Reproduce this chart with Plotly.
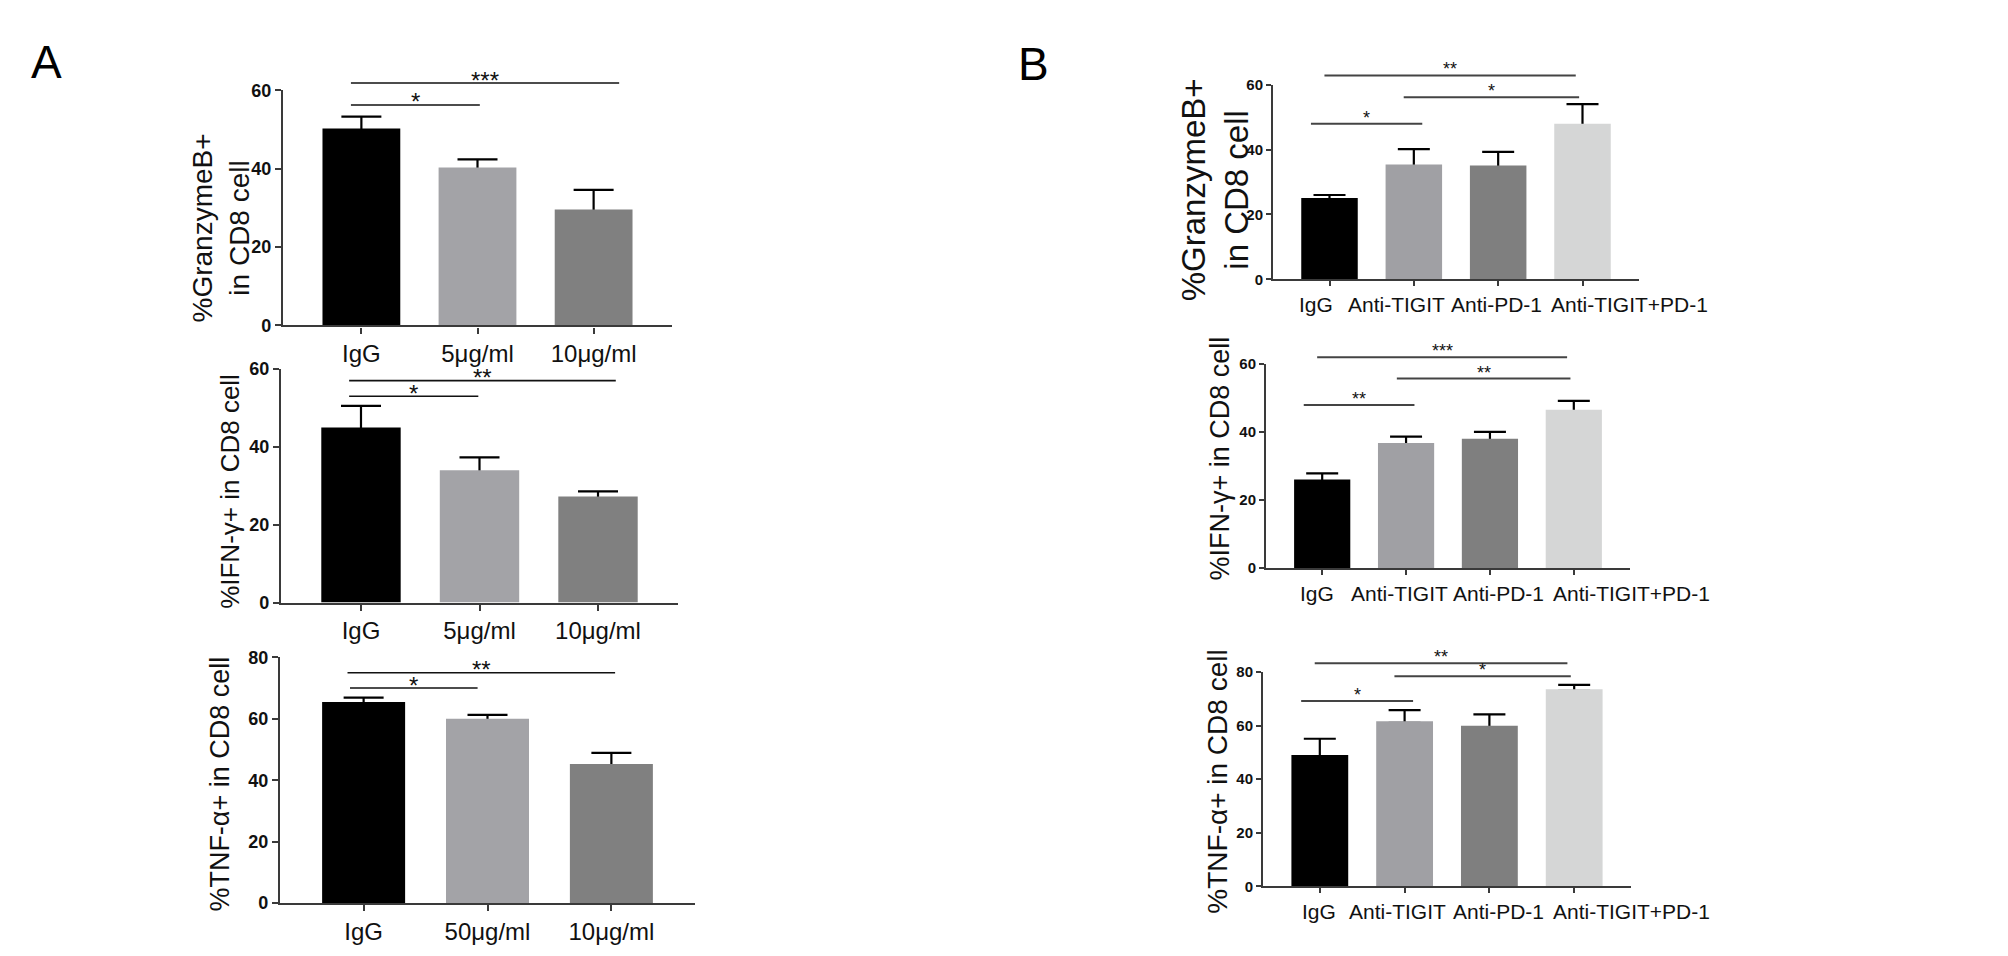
import plotly.graph_objects as go

W, H = 2008, 956

# ---- data ----
groups_a = ['IgG', '5μg/ml', '10μg/ml']
groups_a_tnf = ['IgG', '50μg/ml', '10μg/ml']
groups_b = ['IgG', 'Anti-TIGIT', 'Anti-PD-1', 'Anti-TIGIT+PD-1']

gzmb_a = [50.3, 40.3, 29.6]
gzmb_a_err = [3.0, 2.1, 5.0]
ifng_a = [44.9, 33.9, 27.2]
ifng_a_err = [5.5, 3.3, 1.3]
tnfa_a = [65.5, 60.0, 45.3]
tnfa_a_err = [1.4, 1.3, 3.6]

gzmb_b = [25.1, 35.4, 35.1, 47.9]
gzmb_b_err = [0.9, 4.7, 4.2, 6.1]
ifng_b = [26.0, 36.7, 38.0, 46.5]
ifng_b_err = [1.8, 1.9, 2.0, 2.6]
tnfa_b = [49.0, 61.6, 60.0, 73.6]
tnfa_b_err = [6.1, 4.2, 4.2, 1.6]

# significance brackets: (from, to, height, stars)
sig_gzmb_a = [(-0.09, 1.02, 56.3, '*'), (-0.09, 2.22, 61.9, '***')]
sig_ifng_a = [(-0.10, 0.99, 52.9, '*'), (-0.10, 2.15, 56.9, '**')]
sig_tnfa_a = [(-0.11, 0.92, 70.0, '*'), (-0.13, 2.03, 75.0, '**')]
sig_gzmb_b = [(-0.22, 1.10, 47.9, '*'), (0.88, 2.96, 56.1, '*'), (-0.06, 2.92, 62.8, '**')]
sig_ifng_b = [(-0.22, 1.10, 47.9, '**'), (0.89, 2.96, 55.6, '**'), (-0.06, 2.92, 61.9, '***')]
sig_tnfa_b = [(-0.22, 1.10, 69.2, '*'), (0.88, 2.96, 78.4, '*'), (-0.06, 2.92, 83.3, '**')]

colors_a = ['#000000', '#a3a3a7', '#808080']
colors_b = ['#000000', '#a0a0a4', '#7f7f7f', '#d5d6d6']

SANS = 'Liberation Sans, Arial, sans-serif'

style_a = dict(axw=2.2, xfont=24, yfont=18, errw=20, star=24, sigc='#111111', sigw=1.6,
               ticklen=6, staroff=3, xrange=[-0.675, 2.675])
style_b = dict(axw=2, xfont=21, yfont=15, errw=16, star=18, sigc='#444444', sigw=2,
               ticklen=5, staroff=6, xrange=[-0.67, 3.67])

# box = (x_left, x_right, y_top, y_bottom) in pixels
# B panels: group labels are nudged sideways (px) so the long names do not collide
panels = [
    dict(groups=groups_a, vals=gzmb_a, errs=gzmb_a_err, colors=colors_a, ymax=60, sig=sig_gzmb_a,
         box=(275, 664, 74, 314), title='%GranzymeB+<br>in CD8 cell', tpos=(213, 215), tsize=28, st=style_a),
    dict(groups=groups_a, vals=ifng_a, errs=ifng_a_err, colors=colors_a, ymax=60, sig=sig_ifng_a,
         box=(273, 670, 358, 597), title='%IFN-γ+ in CD8 cell', tpos=(222, 484), tsize=26, st=style_a),
    dict(groups=groups_a_tnf, vals=tnfa_a, errs=tnfa_a_err, colors=colors_a, ymax=80, sig=sig_tnfa_a,
         box=(272, 687, 653, 904), title='%TNF-α+ in CD8 cell', tpos=(212, 783), tsize=27, st=style_a),
    dict(groups=groups_b, vals=gzmb_b, errs=gzmb_b_err, colors=colors_b, ymax=60, sig=sig_gzmb_b,
         box=(1265, 1631, 68, 267), title='%GranzymeB+<br>in CD8 cell', tpos=(1207, 176), tsize=33, st=style_b,
         nudge=[-14, -17, -2, 47]),
    dict(groups=groups_b, vals=ifng_b, errs=ifng_b_err, colors=colors_b, ymax=60, sig=sig_ifng_b,
         box=(1258, 1622, 353, 562), title='%IFN-γ+ in CD8 cell', tpos=(1212, 450), tsize=27, st=style_b,
         nudge=[-5, -7, 9, 58]),
    dict(groups=groups_b, vals=tnfa_b, errs=tnfa_b_err, colors=colors_b, ymax=80, sig=sig_tnfa_b,
         box=(1255, 1623, 668, 887), title='%TNF-α+ in CD8 cell', tpos=(1210, 780), tsize=28, st=style_b,
         nudge=[-1, -7, 9, 57]),
]

fig = go.Figure()
layout = dict(width=W, height=H, margin=dict(l=0, r=0, t=0, b=0), paper_bgcolor='white',
              plot_bgcolor='white', showlegend=False, barmode='overlay')
shapes = []
annotations = []

for i, p in enumerate(panels, start=1):
    st = p['st']
    suffix = '' if i == 1 else str(i)
    xa, ya = 'x' + suffix, 'y' + suffix
    n = len(p['groups'])
    # error bars on a hidden bar trace, drawn first so the real bars cover the lower cap
    fig.add_trace(go.Bar(
        x=p['groups'], y=p['vals'], width=0.67, xaxis=xa, yaxis=ya,
        marker=dict(color='rgba(0,0,0,0)', line=dict(width=0)),
        error_y=dict(type='data', symmetric=False, array=p['errs'], arrayminus=[0.6] * n,
                     color='black', thickness=2.2, width=st['errw']),
        hoverinfo='skip'))
    fig.add_trace(go.Bar(
        x=p['groups'], y=p['vals'], width=0.67, xaxis=xa, yaxis=ya,
        marker=dict(color=p['colors'], line=dict(width=0))))

    x0, x1, yt, yb = p['box']
    r0, r1 = st['xrange']
    axis_common = dict(showline=True, linecolor='#3a3a3a', linewidth=st['axw'], ticks='outside',
                       ticklen=st['ticklen'], tickwidth=st['axw'], tickcolor='#3a3a3a',
                       showgrid=False, zeroline=False, fixedrange=True)
    layout['xaxis' + suffix] = dict(axis_common, domain=[x0 / W, x1 / W], anchor=ya,
                                    range=st['xrange'], type='category', tickangle=0,
                                    showticklabels='nudge' not in p,
                                    tickfont=dict(family=SANS, size=st['xfont'], color='#111111'))
    layout['yaxis' + suffix] = dict(axis_common, domain=[1 - yb / H, 1 - yt / H], anchor=xa,
                                    range=[0, p['ymax']], dtick=20,
                                    tickfont=dict(family=SANS, size=st['yfont'], color='#111111',
                                                  weight='bold'))

    if 'nudge' in p:
        for k, (g, dx) in enumerate(zip(p['groups'], p['nudge'])):
            annotations.append(dict(xref=xa + ' domain', yref=ya + ' domain',
                                    x=(k - r0) / (r1 - r0), y=0, xshift=dx, yshift=-25,
                                    text=g, showarrow=False, xanchor='center', yanchor='middle',
                                    font=dict(family=SANS, size=st['xfont'], color='#111111')))

    for (a, b, h, stars) in p['sig']:
        fa, fb = (a - r0) / (r1 - r0), (b - r0) / (r1 - r0)
        fy = h / p['ymax']
        shapes.append(dict(type='line', xref=xa + ' domain', yref=ya + ' domain',
                           x0=fa, x1=fb, y0=fy, y1=fy,
                           line=dict(color=st['sigc'], width=st['sigw'])))
        annotations.append(dict(xref=xa + ' domain', yref=ya + ' domain', x=(fa + fb) / 2, y=fy,
                                text=stars, showarrow=False, xanchor='center', yanchor='middle',
                                yshift=st['staroff'],
                                font=dict(family=SANS, size=st['star'], color='#111111')))

    tx, ty = p['tpos']
    annotations.append(dict(xref='paper', yref='paper', x=tx / W, y=1 - ty / H, text=p['title'],
                            textangle=-90, showarrow=False, xanchor='center', yanchor='middle',
                            font=dict(family=SANS, size=p['tsize'], color='#111111')))

# panel letters
for letter, (lx, ly) in [('A', (38, 45)), ('B', (1025, 47))]:
    annotations.append(dict(xref='paper', yref='paper', x=lx / W, y=1 - ly / H, text=letter,
                            showarrow=False, xanchor='center', yanchor='middle',
                            font=dict(family=SANS, size=46, color='black')))

layout['shapes'] = shapes
layout['annotations'] = annotations
fig.update_layout(**layout)
fig.write_html('out.html')
